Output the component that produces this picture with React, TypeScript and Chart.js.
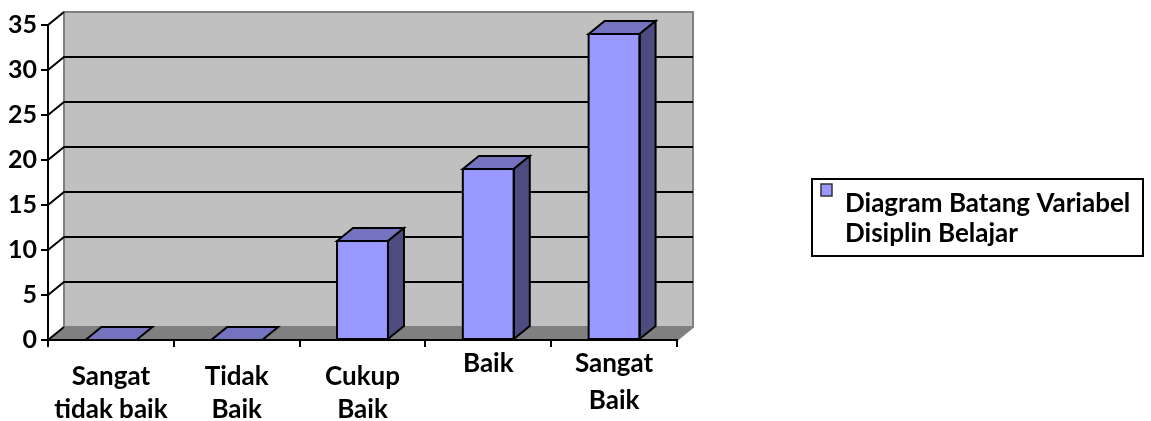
import React, { useEffect, useRef } from 'react';
import { Chart, registerables } from 'chart.js';

Chart.register(...registerables);

// ---- data ----
const categories: string[][] = [
  ['Sangat', 'tidak baik'],
  ['Tidak', 'Baik'],
  ['Cukup', 'Baik'],
  ['Baik'],
  ['Sangat', 'Baik'],
];
const values: number[] = [0, 0, 11, 19, 34];
const seriesName = 'Diagram Batang Variabel Disiplin Belajar';
const legendLines: string[] = ['Diagram Batang Variabel', 'Disiplin Belajar'];
const yMin = 0;
const yMax = 35;
const yStep = 5;

// ---- style / layout ----
const FONT = 'Lato, "Open Sans", sans-serif';
const DX = 16;
const DY = -13;
const FRONT = '#9999ff';
const TOP = '#7373bf';
const SIDE = '#4c4c80';
const WALL = '#c0c0c0';
const FLOOR = '#808080';
// baseline offsets (below the axis) of first label line and line gap per category
const labelBase = [45, 45, 45, 32, 32];
const labelGap = [33, 33, 33, 37, 37];

const threeD = {
  id: 'threeD',
  beforeDraw(chart: any) {
    const { ctx, chartArea } = chart;
    const { left, right, top, bottom } = chartArea;
    const y = chart.scales.y;
    ctx.save();
    ctx.fillStyle = WALL;
    ctx.fillRect(left + DX, top + DY, right - left, bottom - top);
    ctx.fillStyle = FLOOR;
    ctx.beginPath();
    ctx.moveTo(left, bottom);
    ctx.lineTo(right, bottom);
    ctx.lineTo(right + DX, bottom + DY);
    ctx.lineTo(left + DX, bottom + DY);
    ctx.closePath();
    ctx.fill();
    ctx.strokeStyle = '#808080';
    ctx.lineWidth = 2;
    ctx.strokeRect(left + DX, top + DY, right - left, bottom - top);
    ctx.beginPath();
    ctx.moveTo(right, bottom);
    ctx.lineTo(right + DX, bottom + DY);
    ctx.stroke();
    ctx.strokeStyle = '#000';
    ctx.lineWidth = 2;
    y.ticks.forEach((t: any) => {
      const py = y.getPixelForValue(t.value);
      ctx.beginPath();
      ctx.moveTo(left, py);
      ctx.lineTo(left + DX, py + DY);
      if (t.value > yMin && t.value < yMax) {
        ctx.lineTo(right + DX, py + DY);
      }
      ctx.stroke();
    });
    ctx.restore();
  },
  afterDatasetsDraw(chart: any) {
    const { ctx } = chart;
    const meta = chart.getDatasetMeta(0);
    ctx.save();
    ctx.strokeStyle = '#000';
    ctx.lineWidth = 2;
    ctx.lineJoin = 'miter';
    meta.data.forEach((bar: any) => {
      const p = bar.getProps(['x', 'y', 'base', 'width'], true);
      const x1 = p.x - p.width / 2;
      const x2 = p.x + p.width / 2;
      const t = Math.min(p.y, p.base);
      const b = p.base;
      ctx.fillStyle = TOP;
      ctx.beginPath();
      ctx.moveTo(x1, t);
      ctx.lineTo(x1 + DX, t + DY);
      ctx.lineTo(x2 + DX, t + DY);
      ctx.lineTo(x2, t);
      ctx.closePath();
      ctx.fill();
      ctx.stroke();
      if (b - t > 0.5) {
        ctx.fillStyle = SIDE;
        ctx.beginPath();
        ctx.moveTo(x2, t);
        ctx.lineTo(x2 + DX, t + DY);
        ctx.lineTo(x2 + DX, b + DY);
        ctx.lineTo(x2, b);
        ctx.closePath();
        ctx.fill();
        ctx.stroke();
        ctx.strokeRect(x1, t, x2 - x1, b - t);
      }
    });
    ctx.restore();
  },
  afterDraw(chart: any) {
    const { ctx, chartArea } = chart;
    const xs = chart.scales.x;
    ctx.save();
    ctx.fillStyle = '#000';
    ctx.font = `bold 26px ${FONT}`;
    ctx.textAlign = 'center';
    ctx.textBaseline = 'alphabetic';
    categories.forEach((lines, i) => {
      const px = xs.getPixelForValue(i);
      lines.forEach((ln, k) => {
        ctx.fillText(ln, px, chartArea.bottom + labelBase[i] + k * labelGap[i]);
      });
    });
    // legend
    ctx.lineWidth = 2;
    ctx.strokeStyle = '#000';
    ctx.strokeRect(812, 179, 331, 77);
    ctx.fillStyle = FRONT;
    ctx.fillRect(821, 184, 11, 12);
    ctx.lineWidth = 1.5;
    ctx.strokeStyle = '#333';
    ctx.strokeRect(821, 184, 11, 12);
    ctx.fillStyle = '#000';
    ctx.font = `bold 26px ${FONT}`;
    ctx.textAlign = 'left';
    legendLines.forEach((ln, k) => {
      ctx.fillText(ln, 845, 212 + k * 30);
    });
    ctx.restore();
  },
};

export default function App() {
  const ref = useRef<HTMLCanvasElement>(null);
  useEffect(() => {
    if (!ref.current) return;
    const chart = new Chart(ref.current, {
      type: 'bar',
      data: {
        labels: categories.map((c) => c.join(' ')),
        datasets: [
          {
            label: seriesName,
            data: values,
            backgroundColor: FRONT,
            borderColor: '#000',
            borderWidth: 0,
            categoryPercentage: 1,
            barPercentage: 0.405,
          },
        ],
      },
      options: {
        animation: false,
        responsive: false,
        maintainAspectRatio: false,
        layout: { padding: { left: 0, right: 474, top: 25, bottom: 0 } },
        plugins: { legend: { display: false }, tooltip: { enabled: false } },
        scales: {
          x: {
            grid: { drawOnChartArea: false, drawTicks: true, tickLength: 7, color: '#000', lineWidth: 2, offset: true },
            border: { display: true, color: '#000', width: 2 },
            ticks: { display: false },
            afterFit: (s: any) => {
              s.height = 81;
            },
          },
          y: {
            min: yMin,
            max: yMax,
            grid: { drawOnChartArea: false, drawTicks: true, tickLength: 7, color: '#000', lineWidth: 2 },
            border: { display: true, color: '#000', width: 2 },
            ticks: {
              stepSize: yStep,
              color: '#000',
              padding: 4,
              font: { family: FONT, size: 25, weight: 'bold' },
            },
            afterFit: (s: any) => {
              s.width = 48;
            },
          },
        },
      },
      plugins: [threeD],
    });
    return () => chart.destroy();
  }, []);
  return (
    <div style={{ position: 'absolute', left: 0, top: 0, width: 1151, height: 421, background: '#fff' }}>
      <canvas ref={ref} width={1151} height={421} />
    </div>
  );
}
